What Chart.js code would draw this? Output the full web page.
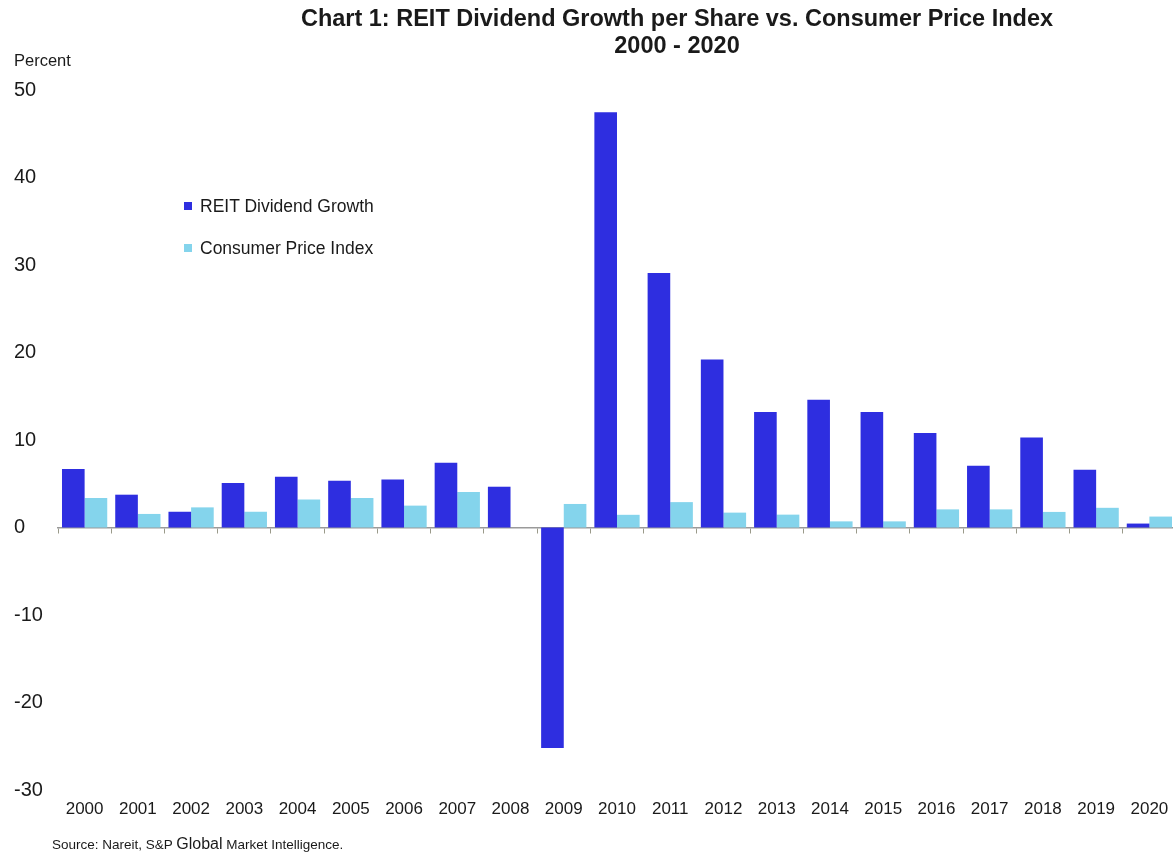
<!DOCTYPE html>
<html>
<head>
<meta charset="utf-8">
<script src="https://cdn.jsdelivr.net/npm/chart.js@4/dist/chart.umd.min.js"></script>
<style>
  html, body { margin: 0; padding: 0; background: #fff; overflow: hidden; }
  body { width: 1173px; height: 855px; position: relative; font-family: "Liberation Sans", Arial, sans-serif; color: #1a1a1a; }
  #wrap { position: absolute; left: 0; top: 0; width: 1176px; height: 855px; }
  .title { position: absolute; left: 227px; width: 900px; text-align: center; font-weight: bold; font-size: 23.5px; line-height: 27px; }
  .unit { position: absolute; left: 14px; top: 51px; font-size: 16.5px; }
  .legend { position: absolute; left: 184px; font-size: 17.5px; }
  .legend span.box { display: inline-block; width: 8px; height: 8px; margin-right: 8px; vertical-align: 2px; }
  .source { position: absolute; left: 52px; top: 835px; font-size: 13.5px; }
  .source b { font-weight: normal; font-size: 16px; }
</style>
</head>
<body>
<div id="wrap"><canvas id="reitChart"></canvas></div>
<div class="title" style="top:5px">Chart 1: REIT Dividend Growth per Share vs. Consumer Price Index</div>
<div class="title" style="top:32px">2000 - 2020</div>
<div class="unit">Percent</div>
<div class="legend" style="top:196px"><span class="box" style="background:#2e2ee0"></span>REIT Dividend Growth</div>
<div class="legend" style="top:238px"><span class="box" style="background:#84d4ec"></span>Consumer Price Index</div>
<div class="source">Source: Nareit, S&amp;P <b>Global</b> Market Intelligence.</div>

<script>
// data
const years = ['2000', '2001', '2002', '2003', '2004', '2005', '2006', '2007', '2008', '2009', '2010',
               '2011', '2012', '2013', '2014', '2015', '2016', '2017', '2018', '2019', '2020'];
const reitDividendGrowth = [6.7, 3.75, 1.8, 5.1, 5.8, 5.35, 5.5, 7.4, 4.66, -25.2, 47.45,
                            29.1, 19.2, 13.2, 14.6, 13.2, 10.8, 7.05, 10.3, 6.6, 0.45];
const consumerPriceIndex = [3.37, 1.55, 2.3, 1.8, 3.2, 3.37, 2.5, 4.06, 0, 2.69, 1.45,
                            2.9, 1.7, 1.47, 0.7, 0.7, 2.07, 2.07, 1.78, 2.25, 1.25];
const yTicks = [50, 40, 30, 20, 10, 0, -10, -20, -30];

const ctx = document.getElementById('reitChart').getContext('2d');

new Chart(ctx, {
    type: 'bar',
    data: {
        labels: years,
        datasets: [{
            label: 'REIT Dividend Growth',
            data: reitDividendGrowth,
            backgroundColor: '#2e2ee0',
            xAxisID: 'x'
        }, {
            label: 'Consumer Price Index',
            data: consumerPriceIndex,
            backgroundColor: '#84d4ec',
            xAxisID: 'x'
        }]
    },
    options: {
        responsive: true,
        maintainAspectRatio: false,
        animation: false,
        layout: { padding: { left: 14, right: 0, top: 90, bottom: 25 } },
        datasets: { bar: { categoryPercentage: 0.85, barPercentage: 1 } },
        plugins: {
            legend: { display: false },
            tooltip: { enabled: false }
        },
        scales: {
            x: {
                position: 'bottom',
                grid: { display: false },
                border: { display: false },
                ticks: {
                    color: '#1a1a1a',
                    padding: 1,
                    maxRotation: 0,
                    autoSkip: false,
                    font: { family: 'Liberation Sans', size: 17 }
                },
                afterFit: (scale) => { scale.height = 40; }
            },
            // zero line with the little category ticks under it
            x0: {
                type: 'category',
                labels: years,
                position: { y: 0 },
                offset: true,
                grid: {
                    offset: true,
                    drawOnChartArea: false,
                    drawTicks: true,
                    tickLength: 5,
                    color: '#9a9a8a'
                },
                border: { display: true, color: '#9a9a9a', width: 1.5 },
                ticks: { display: false }
            },
            y: {
                min: -30,
                max: 50,
                grid: { display: false },
                border: { display: false },
                afterBuildTicks: (scale) => { scale.ticks = yTicks.map(v => ({ value: v })); },
                ticks: {
                    crossAlign: 'far',
                    color: '#1a1a1a',
                    font: { family: 'Liberation Sans', size: 20 }
                },
                afterFit: (scale) => { scale.width = 44; }
            }
        }
    }
});
</script>
</body>
</html>
